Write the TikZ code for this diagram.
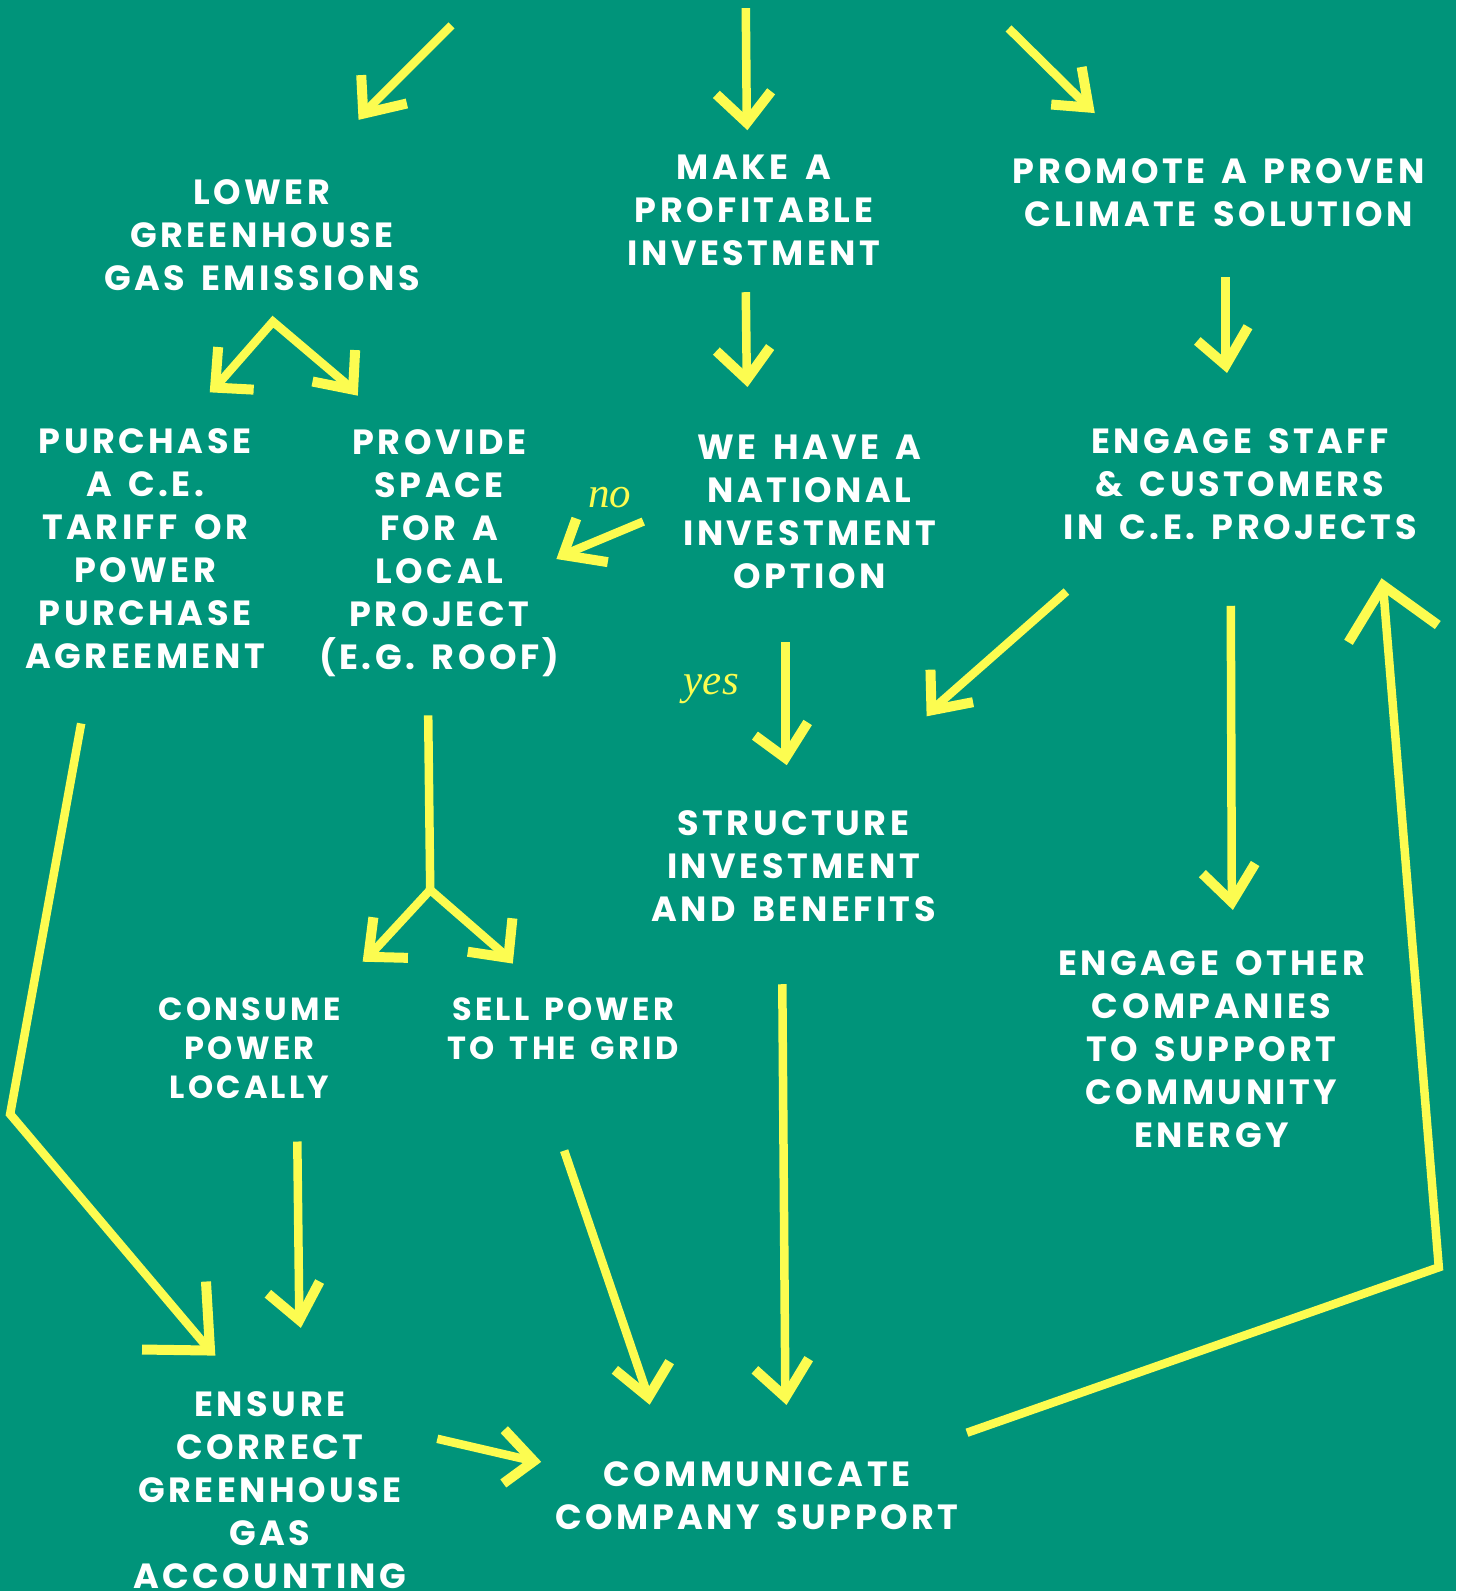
\documentclass[tikz,border=0pt]{standalone}
\usepackage{fontspec}
\newfontfamily\labfont{Poppins}[LetterSpace=10,WordSpace=1.5]
\newfontfamily\ansfont{Liberation Serif}
\definecolor{bg}{RGB}{0,148,122}
\definecolor{yel}{RGB}{252,252,80}
\tikzset{
  lbl/.style={text=white, font=\labfont\bfseries\fontsize{35}{43}\selectfont, align=center, inner sep=0pt},
  lbltight/.style={lbl, font=\labfont\bfseries\fontsize{32}{38.6}\selectfont},
  shaft/.style={draw=yel, line width=8.5pt, line join=miter},
  head/.style={draw=yel, line width=10pt, line join=miter},
  ans/.style={text=yel, font=\ansfont\itshape\fontsize{43}{45}\selectfont, inner sep=0pt}
}
\begin{document}
\begin{tikzpicture}[x=1.0146pt,y=-1.0146pt]
\fill[bg] (0,0) rectangle (1435,1568);
\useasboundingbox (0,0) rectangle (1435,1568);
% nodes
\node[lbl] (ghg) at (258,232) {LOWER\\GREENHOUSE\\GAS EMISSIONS};
\node[lbl] (profit) at (743,207) {MAKE A\\PROFITABLE\\INVESTMENT};
\node[lbl] (promote) at (1201,190) {PROMOTE A PROVEN\\CLIMATE SOLUTION};
\node[lbl] (purchase) at (143,541) {PURCHASE\\A C.E.\\TARIFF OR\\POWER\\PURCHASE\\AGREEMENT};
\node[lbl] (space) at (433,545) {PROVIDE\\SPACE\\FOR A\\LOCAL\\PROJECT\\(E.G. ROOF)};
\node[lbl] (national) at (798,504) {WE HAVE A\\NATIONAL\\INVESTMENT\\OPTION};
\node[lbl] (staff) at (1222,477) {ENGAGE STAFF\\\& CUSTOMERS\\IN C.E. PROJECTS};
\node[lbl] (structure) at (782,854) {STRUCTURE\\INVESTMENT\\AND BENEFITS};
\node[lbltight] (consume) at (246,1033) {CONSUME\\POWER\\LOCALLY};
\node[lbltight] (sell) at (555,1014) {SELL POWER\\TO THE GRID};
\node[lbl] (other) at (1194,1034) {ENGAGE OTHER\\COMPANIES\\TO SUPPORT\\COMMUNITY\\ENERGY};
\node[lbl] (ensure) at (266,1469) {ENSURE\\CORRECT\\GREENHOUSE\\GAS\\ACCOUNTING};
\node[lbl] (communicate) at (746,1474) {COMMUNICATE\\COMPANY SUPPORT};
\node[ans] (no) at (601,490) {no};
\node[ans] (yes) at (701,679) {yes};
% arrow points
\coordinate (a1s) at (445,25);   \coordinate (a1t) at (358,112); \coordinate (a1b) at (356,74);  \coordinate (a1c) at (401,102);
\coordinate (a2s) at (735,8);    \coordinate (a2t) at (736,121); \coordinate (a2b) at (706,93);  \coordinate (a2c) at (760,90);
\coordinate (a3s) at (994,28);   \coordinate (a3t) at (1073,106); \coordinate (a3b) at (1066,66); \coordinate (a3c) at (1036,103);
\coordinate (a4s) at (735,288);  \coordinate (a4t) at (736,374); \coordinate (a4b) at (706,346); \coordinate (a4c) at (759,342);
\coordinate (a5s) at (1208,273); \coordinate (a5t) at (1208,360); \coordinate (a5b) at (1180,336); \coordinate (a5c) at (1230,322);
\coordinate (a6s) at (269,317);
\coordinate (a6lt) at (212,382); \coordinate (a6lb) at (215,342); \coordinate (a6lc) at (250,384);
\coordinate (a6rt) at (348,384); \coordinate (a6rb) at (350,345); \coordinate (a6rc) at (308,376);
\coordinate (a7s) at (634,514);  \coordinate (a7t) at (555,547); \coordinate (a7b) at (568,511); \coordinate (a7c) at (599,554);
\coordinate (a8s) at (774,633);  \coordinate (a8t) at (774,747); \coordinate (a8b) at (744,725); \coordinate (a8c) at (796,712);
\coordinate (a9s) at (1051,583); \coordinate (a9t) at (918,700); \coordinate (a9b) at (917,660); \coordinate (a9c) at (959,692);
\coordinate (a10s) at (1213,597); \coordinate (a10t) at (1214,889); \coordinate (a10b) at (1185,861); \coordinate (a10c) at (1237,851);
\coordinate (a11s) at (953,1412); \coordinate (a11m) at (1418,1249); \coordinate (a11t) at (1363,577); \coordinate (a11b) at (1329,633); \coordinate (a11c) at (1417,616);
\coordinate (a12s) at (422,705); \coordinate (a12m) at (424,877);
\coordinate (a12lt) at (363,943); \coordinate (a12lb) at (368,904); \coordinate (a12lc) at (402,944);
\coordinate (a12rt) at (501,944); \coordinate (a12rb) at (505,905); \coordinate (a12rc) at (461,938);
\coordinate (a13s) at (80,713); \coordinate (a13m) at (10,1098); \coordinate (a13t) at (207,1331); \coordinate (a13b) at (203,1263); \coordinate (a13c) at (140,1330);
\coordinate (a14s) at (293,1125); \coordinate (a14t) at (295,1301); \coordinate (a14b) at (264,1275); \coordinate (a14c) at (315,1263);
\coordinate (a15s) at (556,1134); \coordinate (a15t) at (639,1377); \coordinate (a15b) at (606,1350); \coordinate (a15c) at (660,1342);
\coordinate (a16s) at (771,970); \coordinate (a16t) at (774,1377); \coordinate (a16b) at (744,1350); \coordinate (a16c) at (797,1339);
\coordinate (a17s) at (431,1418); \coordinate (a17t) at (526,1440); \coordinate (a17b) at (497,1409); \coordinate (a17c) at (496,1462);
% shafts
\draw[shaft] (a1s) -- (a1t);
\draw[shaft] (a2s) -- (a2t);
\draw[shaft] (a3s) -- (a3t);
\draw[shaft] (a4s) -- (a4t);
\draw[shaft] (a5s) -- (a5t);
\draw[shaft] (a6lt) -- (a6s) -- (a6rt);
\draw[shaft] (a7s) -- (a7t);
\draw[shaft] (a8s) -- (a8t);
\draw[shaft] (a9s) -- (a9t);
\draw[shaft] (a10s) -- (a10t);
\draw[shaft] (a11s) -- (a11m) -- (a11t);
\draw[shaft] (a12s) -- (a12m);
\draw[shaft] (a12lt) -- (a12m) -- (a12rt);
\draw[shaft] (a13s) -- (a13m) -- (a13t);
\draw[shaft] (a14s) -- (a14t);
\draw[shaft] (a15s) -- (a15t);
\draw[shaft] (a16s) -- (a16t);
\draw[shaft] (a17s) -- (a17t);
% heads
\draw[head] (a1b) -- (a1t) -- (a1c);
\draw[head] (a2b) -- (a2t) -- (a2c);
\draw[head] (a3b) -- (a3t) -- (a3c);
\draw[head] (a4b) -- (a4t) -- (a4c);
\draw[head] (a5b) -- (a5t) -- (a5c);
\draw[head] (a6lb) -- (a6lt) -- (a6lc);
\draw[head] (a6rb) -- (a6rt) -- (a6rc);
\draw[head] (a7b) -- (a7t) -- (a7c);
\draw[head] (a8b) -- (a8t) -- (a8c);
\draw[head] (a9b) -- (a9t) -- (a9c);
\draw[head] (a10b) -- (a10t) -- (a10c);
\draw[head] (a11b) -- (a11t) -- (a11c);
\draw[head] (a12lb) -- (a12lt) -- (a12lc);
\draw[head] (a12rb) -- (a12rt) -- (a12rc);
\draw[head] (a13b) -- (a13t) -- (a13c);
\draw[head] (a14b) -- (a14t) -- (a14c);
\draw[head] (a15b) -- (a15t) -- (a15c);
\draw[head] (a16b) -- (a16t) -- (a16c);
\draw[head] (a17b) -- (a17t) -- (a17c);
\end{tikzpicture}
\end{document}
